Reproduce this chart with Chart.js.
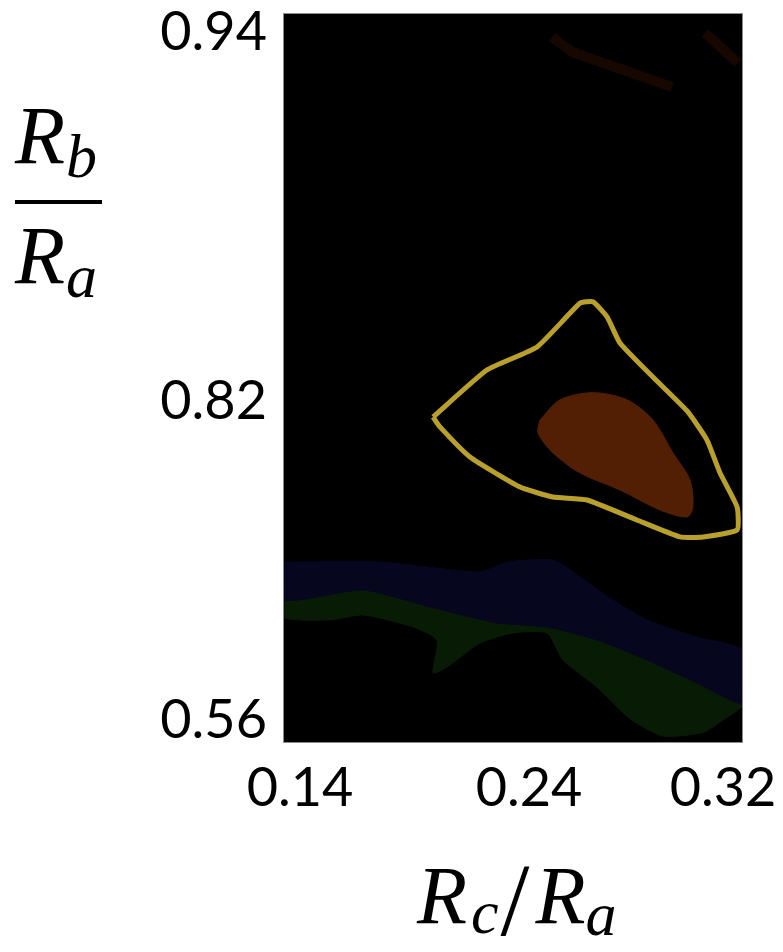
<!DOCTYPE html>
<html>
<head>
<meta charset="utf-8">
<title>Rb/Ra vs Rc/Ra</title>
<script src="https://cdn.jsdelivr.net/npm/chart.js@4/dist/chart.umd.min.js"></script>
<style>
  html, body { margin: 0; padding: 0; background: #fff; }
  canvas { display: block; }
</style>
</head>
<body>
<canvas id="myChart" width="783" height="952"></canvas>
<script>
'use strict';

// tick labels printed on the axes
const xTicks = [0.14, 0.24, 0.32];
const yTicks = [0.56, 0.82, 0.94];

// outer contour (yellow line) as (Rc/Ra, Rb/Ra)
const contourX = [0.1981, 0.2216, 0.2433, 0.2611, 0.2664, 0.2722, 0.2775, 0.2911, 0.3052, 0.3134, 0.3188, 0.3258, 0.3258, 0.3118, 0.3023, 0.2845, 0.2639, 0.2499, 0.2361, 0.2142, 0.2011, 0.1981];
const contourY = [0.8072, 0.8302, 0.8377, 0.8520, 0.8524, 0.8475, 0.8390, 0.8279, 0.8121, 0.7884, 0.7615, 0.7338, 0.7151, 0.7094, 0.7094, 0.7232, 0.7395, 0.7419, 0.7501, 0.7746, 0.7991, 0.8072];

// inner best-fit region (brown blob)
const coreX = [0.2445, 0.2528, 0.2664, 0.2804, 0.2911, 0.2994, 0.3064, 0.3076, 0.3052, 0.2940, 0.2775, 0.2611, 0.2499, 0.2437, 0.2445];
const coreY = [0.8048, 0.8205, 0.8228, 0.8205, 0.8048, 0.7779, 0.7558, 0.7338, 0.7257, 0.7314, 0.7477, 0.7615, 0.7779, 0.7942, 0.8048];

// blue band: upper edge left->right, then lower edge right->left
const blueX = [0.1334, 0.1749, 0.2186, 0.2304, 0.2499, 0.2611, 0.2746, 0.2887, 0.3093, 0.3278, 0.3278, 0.3093, 0.2887, 0.2680, 0.2474, 0.2260, 0.1968, 0.1675, 0.1334, 0.1334];
const blueY = [0.6890, 0.6890, 0.6808, 0.6890, 0.6906, 0.6767, 0.6580, 0.6417, 0.6278, 0.6172, 0.5740, 0.5903, 0.6090, 0.6254, 0.6360, 0.6393, 0.6523, 0.6661, 0.6580, 0.6890];

// green band below it
const greenX = [0.1334, 0.1675, 0.1968, 0.2260, 0.2474, 0.2680, 0.2887, 0.3093, 0.3278, 0.3278, 0.3200, 0.3118, 0.2953, 0.2817, 0.2680, 0.2540, 0.2474, 0.2330, 0.2186, 0.2042, 0.1981, 0.1998, 0.1893, 0.1675, 0.1531, 0.1334, 0.1334];
const greenY = [0.6580, 0.6661, 0.6523, 0.6393, 0.6360, 0.6254, 0.6090, 0.5903, 0.5740, 0.5708, 0.5601, 0.5500, 0.5470, 0.5610, 0.5870, 0.6090, 0.6311, 0.6311, 0.6229, 0.6033, 0.5985, 0.6254, 0.6360, 0.6458, 0.6417, 0.6433, 0.6580];

// faint streaks near the top right
const streak1X = [0.2495, 0.2577, 0.2990];
const streak1Y = [0.9387, 0.9338, 0.9224];
const streak2X = [0.3126, 0.3262];
const streak2Y = [0.9400, 0.9302];

// the printed axis is not evenly spaced: [value, fraction of axis length]
const xKnots = [[0.133, 0], [0.14, 0.035], [0.24, 0.535], [0.32, 0.9585], [0.3278, 1]];
const yKnots = [[0.5422, 0], [0.56, 0.030], [0.82, 0.468], [0.94, 0.974], [0.9462, 1]];
const knotsFor = { x: xKnots, y: yKnots };

function toDecimal(v, k) {
  for (let i = 1; i < k.length; i++) {
    if (v <= k[i][0] || i === k.length - 1) {
      const a = k[i - 1], b = k[i];
      return a[1] + (v - a[0]) / (b[0] - a[0]) * (b[1] - a[1]);
    }
  }
}
function fromDecimal(d, k) {
  for (let i = 1; i < k.length; i++) {
    if (d <= k[i][1] || i === k.length - 1) {
      const a = k[i - 1], b = k[i];
      return a[0] + (d - a[1]) / (b[1] - a[1]) * (b[0] - a[0]);
    }
  }
}

class BrokenScale extends Chart.LinearScale {
  getPixelForValue(value) {
    if (value === null || value === undefined) return NaN;
    return this.getPixelForDecimal(toDecimal(value, knotsFor[this.id]));
  }
  getValueForPixel(pixel) {
    return fromDecimal(this.getDecimalForPixel(pixel), knotsFor[this.id]);
  }
}
BrokenScale.id = 'broken';
BrokenScale.defaults = Chart.LinearScale.defaults;
Chart.register(BrokenScale);

function zip(xs, ys) {
  return xs.map(function (x, i) { return { x: x, y: ys[i] }; });
}

function noPadding(scale) {
  scale.paddingTop = 0;
  scale.paddingBottom = 0;
  scale.paddingLeft = 0;
  scale.paddingRight = 0;
}

const serif = '"Liberation Serif", "DejaVu Serif", serif';

function drawPieces(ctx, pieces, x) {
  pieces.forEach(function (p) {
    ctx.font = p.font;
    ctx.fillText(p.t, x + (p.dx || 0), p.y);
    x += (p.dx || 0) + ctx.measureText(p.t).width;
  });
}

const framePlugin = {
  id: 'frame',
  beforeDraw(chart) {
    const ctx = chart.ctx, a = chart.chartArea;
    ctx.save();
    ctx.fillStyle = '#000';
    ctx.fillRect(a.left, a.top, a.right - a.left, a.bottom - a.top);
    ctx.restore();
  },
  afterDraw(chart) {
    const ctx = chart.ctx, a = chart.chartArea;
    ctx.save();
    ctx.strokeStyle = '#8c8c8c';
    ctx.lineWidth = 1;
    ctx.strokeRect(a.left - 0.5, a.top - 0.5, a.right - a.left + 1, a.bottom - a.top + 1);

    ctx.fillStyle = '#000';
    ctx.textBaseline = 'alphabetic';
    ctx.textAlign = 'left';
    const big = 'italic 82px ' + serif;
    const sub = 'italic 62px ' + serif;

    // y title as a stacked fraction Rb over Ra
    drawPieces(ctx, [
      { t: 'R', font: big, y: 163 },
      { t: 'b', font: sub, y: 177, dx: 1 }
    ], 15);
    ctx.fillRect(15, 200, 87, 4);
    drawPieces(ctx, [
      { t: 'R', font: big, y: 283 },
      { t: 'a', font: sub, y: 297, dx: 1 }
    ], 15);

    // x title Rc/Ra
    drawPieces(ctx, [
      { t: 'R', font: big, y: 923 },
      { t: 'c', font: sub, y: 933, dx: 4 },
      { t: '/', font: '104px ' + serif, y: 935, dx: 2 },
      { t: 'R', font: big, y: 923, dx: 6 },
      { t: 'a', font: sub, y: 935, dx: 0 }
    ], 417);
    ctx.restore();
  }
};

const tickFont = { family: 'Lato, "Open Sans", sans-serif', size: 54 };
const streakColor = 'rgba(62, 24, 4, 0.35)';

const ctx1 = document.getElementById('myChart');
const myChart = new Chart(ctx1, {
  type: 'scatter',
  data: {
    datasets: [
      { label: 'contour', data: zip(contourX, contourY), showLine: true, borderColor: 'rgb(185, 160, 45)', borderWidth: 5, pointRadius: 0, tension: 0.15, fill: false },
      { label: 'core', data: zip(coreX, coreY), showLine: true, borderColor: 'rgb(82, 31, 5)', borderWidth: 1, backgroundColor: 'rgb(82, 31, 5)', pointRadius: 0, tension: 0.3, fill: 'shape' },
      { label: 'streak1', data: zip(streak1X, streak1Y), showLine: true, borderColor: streakColor, borderWidth: 10, pointRadius: 0, fill: false },
      { label: 'streak2', data: zip(streak2X, streak2Y), showLine: true, borderColor: streakColor, borderWidth: 10, pointRadius: 0, fill: false },
      { label: 'blue', data: zip(blueX, blueY), showLine: true, borderColor: 'rgb(6, 7, 30)', borderWidth: 1, backgroundColor: 'rgb(6, 7, 30)', pointRadius: 0, tension: 0.2, fill: 'shape' },
      { label: 'green', data: zip(greenX, greenY), showLine: true, borderColor: 'rgb(8, 28, 5)', borderWidth: 1, backgroundColor: 'rgb(8, 28, 5)', pointRadius: 0, tension: 0.2, fill: 'shape' }
    ]
  },
  options: {
    responsive: false,
    devicePixelRatio: 1,
    animation: false,
    layout: { padding: { top: 14, right: 41, left: 0, bottom: 0 } },
    plugins: { legend: { display: false }, tooltip: { enabled: false } },
    scales: {
      x: {
        type: 'broken',
        min: xKnots[0][0],
        max: xKnots[xKnots.length - 1][0],
        grid: { display: false, drawTicks: false },
        border: { display: false },
        afterBuildTicks: function (scale) { scale.ticks = xTicks.map(function (v) { return { value: v }; }); },
        afterFit: function (scale) { scale.height = 210; noPadding(scale); },
        ticks: { autoSkip: false, maxRotation: 0, padding: 14, color: '#000', font: tickFont, callback: function (v) { return v.toFixed(2); } }
      },
      y: {
        type: 'broken',
        min: yKnots[0][0],
        max: yKnots[yKnots.length - 1][0],
        grid: { display: false, drawTicks: false },
        border: { display: false },
        afterBuildTicks: function (scale) { scale.ticks = yTicks.map(function (v) { return { value: v }; }); },
        afterFit: function (scale) { scale.width = 284; noPadding(scale); },
        ticks: { autoSkip: false, padding: 17, color: '#000', font: tickFont, callback: function (v) { return v.toFixed(2); } }
      }
    }
  },
  plugins: [framePlugin]
});
</script>
</body>
</html>
